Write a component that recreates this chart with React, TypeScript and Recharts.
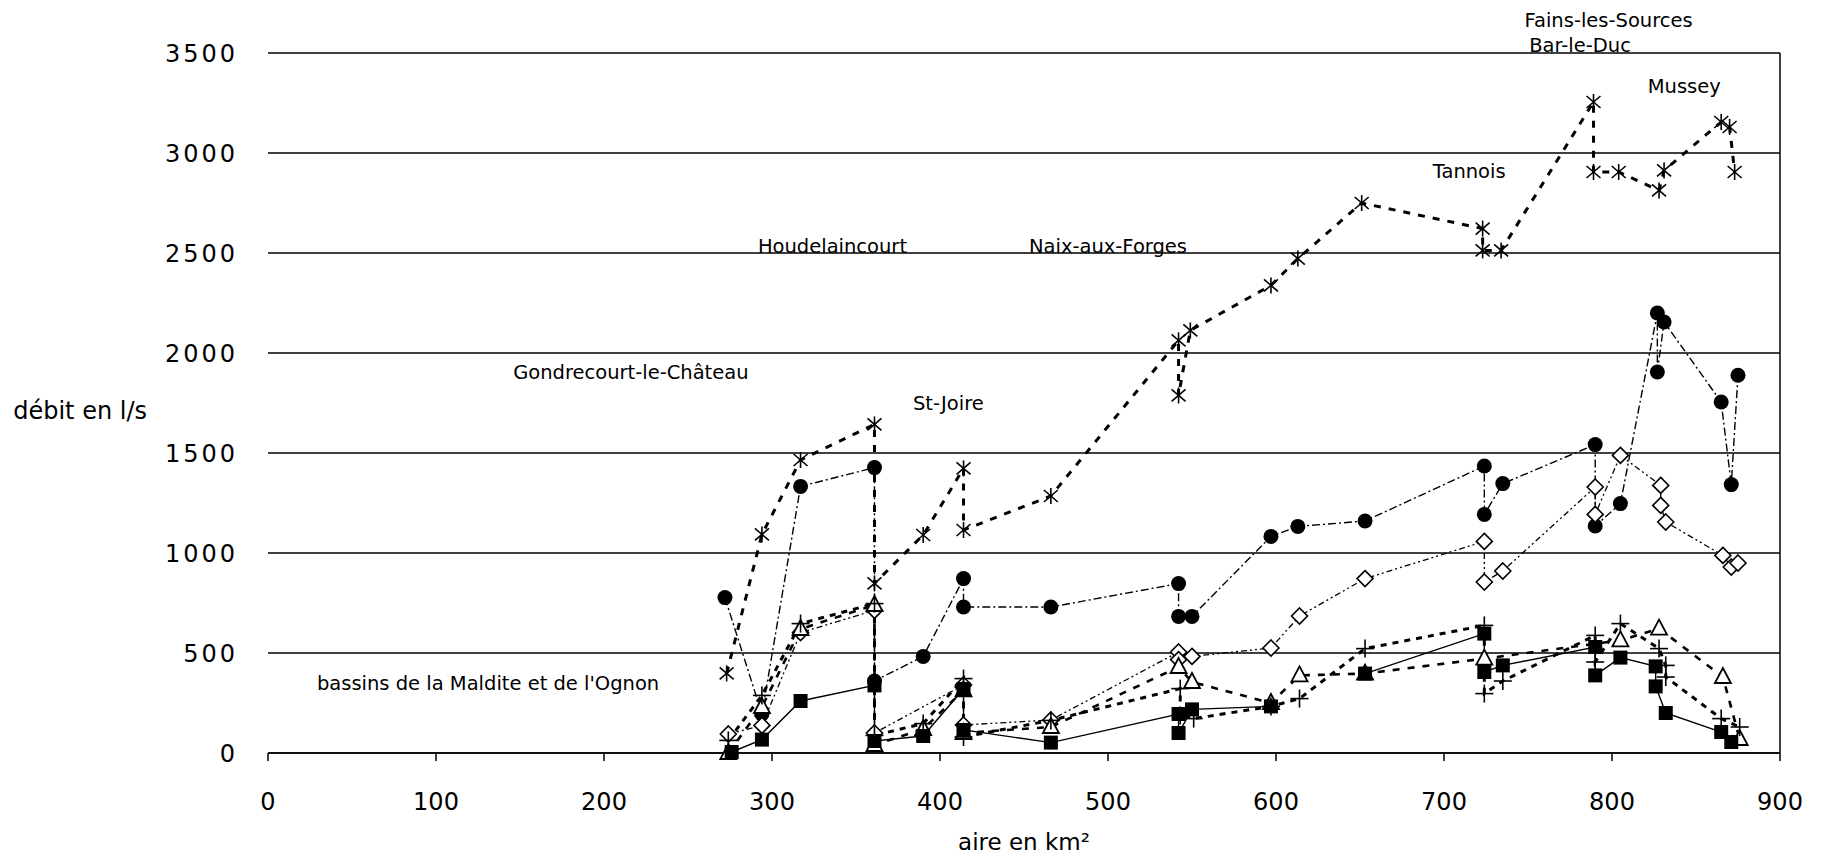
import React from "react";
import {
  LineChart,
  Line,
  XAxis,
  YAxis,
  CartesianGrid,
  ReferenceLine,
  ReferenceDot,
} from "recharts";

// aire (km²), débit (l/s) — une liste par type de symbole
const asterisque: [number, number | null][] = [
  [273, 398], [294, 1093], [317, 1465], [361, 1643], [361, 848], [390, 1090],
  [414, 1423], [414, 1115], [466, 1285], [542, 2063], [542, 1788], [549, 2113],
  [597, 2338], [613, 2472], [651, 2750], [723, 2622], [723, 2513], [734, 2513],
  [789, 3255], [789, 2905], [804, 2905], [828, 2813], [831, 2913], [865, 3155],
  [870, 3130], [873, 2905],
];

const cercle: [number, number | null][] = [
  [272, 777], [294, 195], [317, 1333], [361, 1427], [361, 360], [390, 483],
  [414, 872], [414, 730], [466, 730], [542, 847], [542, 683], [550, 683],
  [597, 1083], [613, 1133], [653, 1160], [724, 1435], [724, 1193], [735, 1347],
  [790, 1542], [790, 1135], [805, 1247], [827, 2200], [827, 1905], [831, 2155],
  [865, 1755], [871, 1342], [875, 1889],
];

const losange: [number, number | null][] = [
  [274, 95], [294, 138], [317, 602], [361, 713], [361, 100], [414, 340],
  [414, 140], [466, 165], [542, 505], [542, 467], [550, 483], [597, 525],
  [614, 685], [653, 872], [724, 1058], [724, 855], [735, 910], [790, 1330],
  [790, 1193], [805, 1488], [829, 1338], [829, 1238], [832, 1155], [866, 988],
  [871, 930], [875, 950],
];

const triangle: [number, number | null][] = [
  [274, 0], [294, 230], [317, 620], [361, 740], [361, 40], [390, 120],
  [414, 313], [414, 100], [466, 130], [542, 430], [550, 355], [597, 250],
  [614, 388], [653, 397], [724, 472], [805, 563], [828, 622], [866, 380],
  [876, 70],
];

const croix: [number, number | null][] = [
  [274, 63], [294, 288], [317, 647], [361, 747], [361, 88], [390, 147],
  [414, 372], [414, 80], [466, 163], [543, 322], [543, 188], [551, 172],
  [597, 233], [614, 272], [653, 522], [724, 638], [724, 297], [735, 360],
  [790, 588], [790, 455], [805, 647], [828, 522], [832, 438], [832, 380],
  [865, 172], [876, 130],
];

const carre: [number, number | null][] = [
  [276, 5], [294, 67], [317, 260], [361, 338], [361, 60], [390, 85],
  [414, 320], [414, 115], [466, 52], [542, 195], [542, 100], [550, 218],
  [597, 233], [620, null], [653, 397], [724, 597], [724, 405], [735, 438],
  [790, 530], [790, 388], [805, 477], [826, 433], [826, 333], [832, 200],
  [865, 105], [871, 55],
];

const xTicks = [0, 100, 200, 300, 400, 500, 600, 700, 800, 900];
const yTicks = [0, 500, 1000, 1500, 2000, 2500, 3000, 3500];

// noms des stations, placés en coordonnées du graphique
const stations: [string, number, number][] = [
  ["Fains-les-Sources", 798, 3662],
  ["Bar-le-Duc", 781, 3538],
  ["Mussey", 843, 3333],
  ["Tannois", 715, 2908],
  ["Houdelaincourt", 336, 2533],
  ["Naix-aux-Forges", 500, 2533],
  ["Gondrecourt-le-Château", 216, 1903],
  ["St-Joire", 405, 1748],
  ["bassins de la Maldite et de l'Ognon", 131, 348],
];

const FONT = "'DejaVu Sans', Arial, sans-serif";

const toPoints = (list: [number, number | null][]) =>
  list.map(([x, y]) => ({ x, y }));

type Kind = "star" | "circle" | "diamond" | "triangle" | "plus" | "square";

const Marker = ({ cx, cy, kind }: { cx?: number; cy?: number; kind: Kind }) => {
  if (cx == null || cy == null || isNaN(cx) || isNaN(cy)) return <g />;
  switch (kind) {
    case "star":
      return (
        <g stroke="#000" strokeWidth={1.6}>
          <line x1={cx} y1={cy - 8} x2={cx} y2={cy + 8} />
          <line x1={cx - 7} y1={cy - 6} x2={cx + 7} y2={cy + 6} />
          <line x1={cx - 7} y1={cy + 6} x2={cx + 7} y2={cy - 6} />
        </g>
      );
    case "circle":
      return <circle cx={cx} cy={cy} r={7.5} fill="#000" />;
    case "diamond":
      return (
        <path
          d={`M${cx},${cy - 8}L${cx + 8},${cy}L${cx},${cy + 8}L${cx - 8},${cy}Z`}
          fill="#fff"
          stroke="#000"
          strokeWidth={1.6}
        />
      );
    case "triangle":
      return (
        <path
          d={`M${cx},${cy - 9}L${cx + 8},${cy + 6}L${cx - 8},${cy + 6}Z`}
          fill="#fff"
          stroke="#000"
          strokeWidth={1.8}
        />
      );
    case "plus":
      return (
        <g stroke="#000" strokeWidth={1.6}>
          <line x1={cx} y1={cy - 9} x2={cx} y2={cy + 9} />
          <line x1={cx - 9} y1={cy} x2={cx + 9} y2={cy} />
        </g>
      );
    default:
      return <rect x={cx - 7} y={cy - 7} width={14} height={14} fill="#000" />;
  }
};

const series: {
  name: string;
  data: [number, number | null][];
  kind: Kind;
  width: number;
  dash?: string;
}[] = [
  { name: "asterisque", data: asterisque, kind: "star", width: 3, dash: "7 8" },
  { name: "cercle", data: cercle, kind: "circle", width: 1.4, dash: "8 3 2 3" },
  { name: "losange", data: losange, kind: "diamond", width: 1.3, dash: "6 3 2 3 2 3" },
  { name: "triangle", data: triangle, kind: "triangle", width: 2.6, dash: "7 8" },
  { name: "croix", data: croix, kind: "plus", width: 3, dash: "6 6" },
  { name: "carre", data: carre, kind: "square", width: 1.4 },
];

export default function App() {
  return (
    <div style={{ width: 1805, height: 846, background: "#fff", fontFamily: FONT }}>
      <LineChart
        width={1805}
        height={846}
        margin={{ top: 45, right: 33, bottom: 41, left: 180 }}
      >
        <CartesianGrid vertical={false} stroke="#000" strokeWidth={1.3} />
        <XAxis
          type="number"
          dataKey="x"
          domain={[0, 900]}
          ticks={xTicks}
          height={60}
          tickSize={8}
          tickMargin={32}
          axisLine={{ stroke: "#000", strokeWidth: 1.5 }}
          tickLine={{ stroke: "#000", strokeWidth: 1.5 }}
          tick={{ fill: "#000", fontSize: 24, fontFamily: FONT }}
          allowDuplicatedCategory={false}
          label={{
            value: "aire en km²",
            position: "bottom",
            offset: 21,
            fill: "#000",
            fontSize: 23,
            fontFamily: FONT,
          }}
        />
        <YAxis
          type="number"
          domain={[0, 3500]}
          ticks={yTicks}
          width={80}
          tickSize={6}
          tickMargin={24}
          axisLine={false}
          tickLine={false}
          tick={{ fill: "#000", fontSize: 24, fontFamily: FONT, letterSpacing: 3 }}
          label={{
            value: "débit en l/s",
            position: "left",
            offset: 41,
            dy: 7,
            fill: "#000",
            fontSize: 24,
            fontFamily: FONT,
          }}
        />
        <ReferenceLine x={900} stroke="#000" strokeWidth={1.5} />
        {series.map((s) => (
          <Line
            key={s.name}
            data={toPoints(s.data)}
            dataKey="y"
            type="linear"
            stroke="#000"
            strokeWidth={s.width}
            strokeDasharray={s.dash}
            isAnimationActive={false}
            connectNulls={false}
            dot={(p: any) => (
              <Marker key={`${s.name}-${p.index}`} cx={p.cx} cy={p.cy} kind={s.kind} />
            )}
            activeDot={false}
          />
        ))}
        {stations.map(([nom, x, y]) => (
          <ReferenceDot
            key={nom}
            x={x}
            y={y}
            ifOverflow="visible"
            shape={(p: any) => (
              <text
                x={p.cx}
                y={p.cy}
                textAnchor="middle"
                dominantBaseline="central"
                fontSize={19.5}
                fontFamily={FONT}
                fill="#000"
              >
                {nom}
              </text>
            )}
          />
        ))}
      </LineChart>
    </div>
  );
}
